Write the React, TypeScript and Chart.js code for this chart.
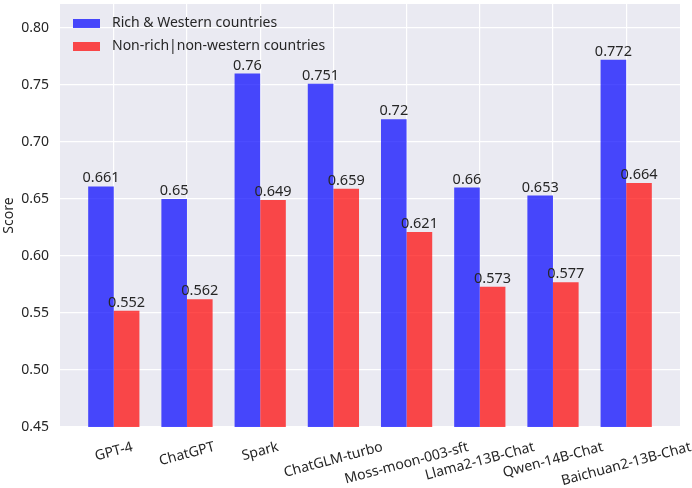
import React, { useEffect, useRef } from 'react';
import Chart from 'chart.js/auto';

const models = [
  'GPT-4',
  'ChatGPT',
  'Spark',
  'ChatGLM-turbo',
  'Moss-moon-003-sft',
  'Llama2-13B-Chat',
  'Qwen-14B-Chat',
  'Baichuan2-13B-Chat',
];
const richScores = [0.661, 0.65, 0.76, 0.751, 0.72, 0.66, 0.653, 0.772];
const nonRichScores = [0.552, 0.562, 0.649, 0.659, 0.621, 0.573, 0.577, 0.664];
const seriesNames = ['Rich & Western countries', 'Non-rich|non-western countries'];
const seriesColors = ['rgba(0, 0, 255, 0.7)', 'rgba(255, 0, 0, 0.7)'];

const FONT = '"Noto Sans", "Open Sans", sans-serif';
const TEXT = '#262626';
const ROT = (15 * Math.PI) / 180;

// seaborn-like background, value labels, rotated x labels and legend inside the plot
const decorations = {
  id: 'decorations',
  beforeDraw(chart: any) {
    const { ctx, chartArea: a } = chart;
    ctx.save();
    ctx.fillStyle = '#EAEAF2';
    ctx.fillRect(a.left, a.top, a.right - a.left, a.bottom - a.top);
    ctx.restore();
  },
  afterDatasetsDraw(chart: any) {
    const { ctx } = chart;
    ctx.save();
    ctx.font = `14.5px ${FONT}`;
    ctx.fillStyle = TEXT;
    ctx.textAlign = 'center';
    ctx.textBaseline = 'alphabetic';
    chart.data.datasets.forEach((ds: any, di: number) => {
      const meta = chart.getDatasetMeta(di);
      meta.data.forEach((el: any, i: number) => {
        ctx.fillText(String(ds.data[i].y), el.x, el.y - 4);
      });
    });
    ctx.restore();
  },
  afterDraw(chart: any) {
    const { ctx, chartArea: a } = chart;
    const xScale = chart.scales.x;
    ctx.save();
    ctx.font = `14px ${FONT}`;
    ctx.fillStyle = TEXT;
    ctx.textAlign = 'center';
    ctx.textBaseline = 'middle';
    const h = 14;
    models.forEach((m, i) => {
      const w = ctx.measureText(m).width;
      const H = w * Math.sin(ROT) + h * Math.cos(ROT);
      const x = xScale.getPixelForValue(i);
      const cy = a.bottom + 13 + H / 2;
      ctx.save();
      ctx.translate(x, cy);
      ctx.rotate(-ROT);
      ctx.fillText(m, 0, 0);
      ctx.restore();
    });

    // legend
    ctx.textAlign = 'left';
    seriesNames.forEach((name, i) => {
      const y = a.top + 15 + i * 23;
      ctx.fillStyle = seriesColors[i];
      ctx.fillRect(a.left + 13, y, 27, 9);
      ctx.fillStyle = TEXT;
      ctx.fillText(name, a.left + 52, y + 4.5);
    });
    ctx.restore();
  },
};

const App: React.FC = () => {
  const chartRef = useRef<HTMLCanvasElement>(null);
  const chartInstance = useRef<Chart | null>(null);

  useEffect(() => {
    if (!chartRef.current) return;
    if (chartInstance.current) chartInstance.current.destroy();
    const ctx = chartRef.current.getContext('2d');
    if (!ctx) return;

    chartInstance.current = new Chart(ctx, {
      type: 'bar',
      data: {
        datasets: [
          {
            label: seriesNames[0],
            data: richScores.map((v, i) => ({ x: i, y: v })),
            backgroundColor: seriesColors[0],
          },
          {
            label: seriesNames[1],
            data: nonRichScores.map((v, i) => ({ x: i, y: v })),
            backgroundColor: seriesColors[1],
          },
        ],
      },
      options: {
        animation: false,
        responsive: true,
        maintainAspectRatio: false,
        layout: { padding: { top: 4, right: 12, left: 0, bottom: 0 } },
        datasets: {
          bar: { categoryPercentage: 0.7, barPercentage: 1.0 },
        },
        plugins: {
          legend: { display: false },
          tooltip: { enabled: false },
        },
        scales: {
          x: {
            type: 'linear',
            offset: false,
            min: -0.735,
            max: 7.735,
            afterBuildTicks: (scale: any) => {
              scale.ticks = models.map((_, i) => ({ value: i }));
            },
            afterFit: (scale: any) => {
              scale.height = 61;
              scale.paddingLeft = 0;
              scale.paddingRight = 0;
            },
            ticks: { display: false },
            grid: { offset: false, color: '#ffffff', lineWidth: 1.2, drawTicks: false },
            border: { display: false },
          },
          y: {
            min: 0.45,
            max: 0.821,
            afterFit: (scale: any) => {
              scale.width = 60;
              scale.paddingTop = 0;
              scale.paddingBottom = 0;
            },
            ticks: {
              stepSize: 0.05,
              includeBounds: false,
              padding: 11,
              color: TEXT,
              font: { family: FONT, size: 14 },
              callback: (v: any) => Number(v).toFixed(2),
            },
            grid: { color: '#ffffff', lineWidth: 1.2, drawTicks: false },
            border: { display: false },
            title: {
              display: true,
              text: 'Score',
              color: TEXT,
              padding: { top: 1, bottom: 0 },
              font: { family: FONT, size: 14 },
            },
          },
        },
      },
      plugins: [decorations],
    });

    return () => {
      if (chartInstance.current) {
        chartInstance.current.destroy();
        chartInstance.current = null;
      }
    };
  }, []);

  return (
    <div style={{ position: 'absolute', left: 0, top: 0, width: '692px', height: '488px', background: '#ffffff' }}>
      <canvas ref={chartRef}></canvas>
    </div>
  );
};

export default App;
